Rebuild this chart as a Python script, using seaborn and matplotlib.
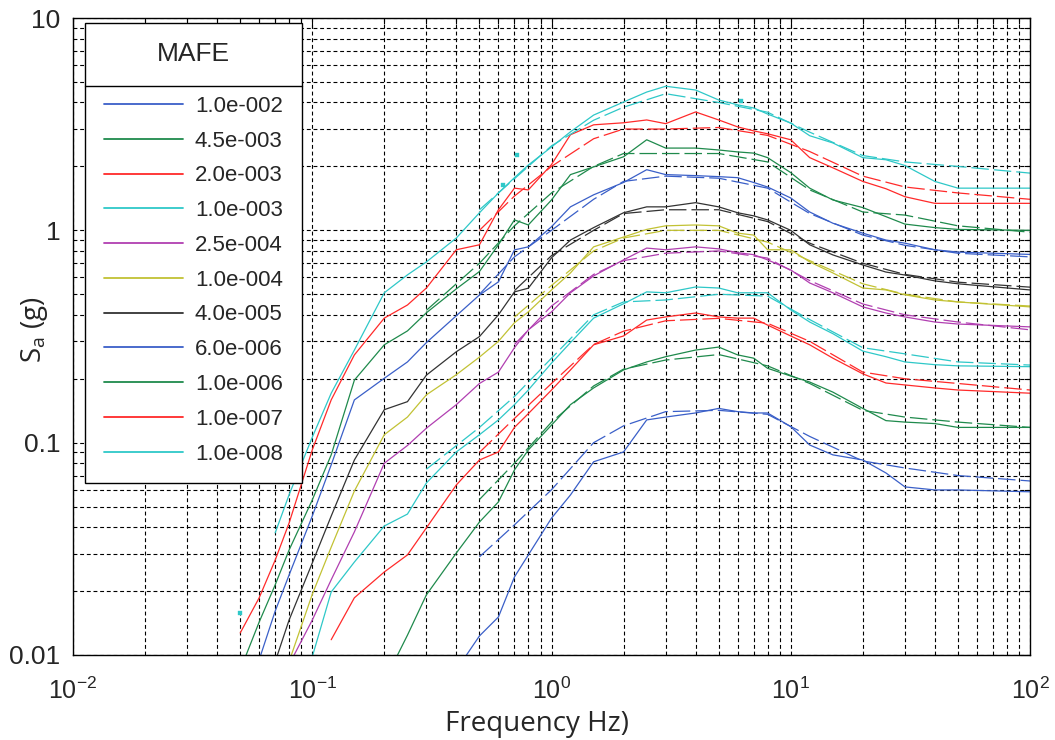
import numpy as np
import pandas as pd
import matplotlib
matplotlib.use("Agg")
import matplotlib.pyplot as plt
import seaborn as sns
from matplotlib.lines import Line2D
from matplotlib.ticker import FixedLocator, FixedFormatter, LogLocator, NullFormatter
from matplotlib.transforms import IdentityTransform

nan = np.nan

# ---------------- data ----------------
freq = [0.05, 0.06, 0.07, 0.08, 0.1, 0.12, 0.15, 0.2, 0.25, 0.3, 0.4, 0.5, 0.6, 0.7, 0.8,
        1.0, 1.2, 1.5, 2, 2.5, 3, 4, 5, 6, 7, 8, 10, 12, 15, 20, 25, 30, 40, 50, 100]

mafe_labels = ["1.0e-002", "4.5e-003", "2.0e-003", "1.0e-003", "2.5e-004", "1.0e-004",
               "4.0e-005", "6.0e-006", "1.0e-006", "1.0e-007", "1.0e-008"]

sa_1e2 = [nan]*10 + [0.0085, 0.0123, 0.0151, 0.0233, 0.0296, 0.0441, 0.0567, 0.0813, 0.0904,
                     0.128, 0.132, 0.138, 0.145, 0.140, 0.138, 0.138, 0.119, 0.0975, 0.0876,
                     0.0829, 0.072, 0.0619, 0.0599, 0.0599, 0.0587]
sa_45e3 = [nan]*7 + [0.0075, 0.0124, 0.0192, 0.0302, 0.0423, 0.0526, 0.0744, 0.0924, 0.121,
                     0.151, 0.181, 0.220, 0.240, 0.254, 0.273, 0.282, 0.259, 0.250, 0.224,
                     0.206, 0.193, 0.173, 0.145, 0.127, 0.125, 0.123, 0.118, 0.118]
sa_2e3 = [nan]*5 + [0.0118, 0.0186, 0.0246, 0.0296, 0.0397, 0.0632, 0.0829, 0.0904, 0.118,
                    0.137, 0.177, 0.220, 0.289, 0.318, 0.378, 0.391, 0.408, 0.391, 0.386,
                    0.386, 0.358, 0.318, 0.289, 0.250, 0.211, 0.191, 0.187, 0.181, 0.177, 0.171]
sa_1e3 = [nan]*4 + [0.0098, 0.0198, 0.0274, 0.0405, 0.0461, 0.0646, 0.0904, 0.109, 0.128,
                    0.151, 0.177, 0.237, 0.296, 0.386, 0.451, 0.513, 0.508, 0.541, 0.535,
                    0.508, 0.508, 0.508, 0.422, 0.370, 0.326, 0.270, 0.254, 0.240, 0.233,
                    0.230, 0.228]
sa_25e4 = [nan]*3 + [0.009, 0.0146, 0.0226, 0.038, 0.080, 0.097, 0.117, 0.151, 0.19, 0.215,
                     0.28, 0.34, 0.413, 0.508, 0.61, 0.726, 0.825, 0.81, 0.836, 0.818, 0.785,
                     0.768, 0.726, 0.651, 0.565, 0.508, 0.436, 0.408, 0.391, 0.37, 0.362, 0.351]
sa_1e4 = [nan]*3 + [0.0093, 0.0193, 0.0322, 0.0592, 0.109, 0.132, 0.168, 0.209, 0.253, 0.30,
                    0.367, 0.413, 0.524, 0.63, 0.836, 0.93, 1.01, 1.05, 1.06, 1.05, 0.97,
                    0.95, 0.81, 0.81, 0.71, 0.63, 0.535, 0.524, 0.497, 0.470, 0.46, 0.436]
sa_4e5 = [nan]*2 + [0.0093, 0.0146, 0.0271, 0.0451, 0.0829, 0.143, 0.156, 0.208, 0.268, 0.316,
                    0.40, 0.513, 0.534, 0.742, 0.90, 1.03, 1.21, 1.29, 1.29, 1.35, 1.29, 1.21,
                    1.17, 1.12, 1.00, 0.855, 0.766, 0.687, 0.636, 0.616, 0.578, 0.56, 0.524]
sa_6e6 = [nan]*1 + [0.0095, 0.0161, 0.0238, 0.0451, 0.0786, 0.159, 0.201, 0.240, 0.296, 0.396,
                    0.496, 0.572, 0.809, 0.836, 1.04, 1.29, 1.47, 1.68, 1.93, 1.83, 1.81, 1.79,
                    1.77, 1.68, 1.60, 1.42, 1.22, 1.08, 0.97, 0.90, 0.87, 0.81, 0.79, 0.77]
sa_1e6 = [0.0085, 0.0143, 0.0214, 0.0312, 0.0537, 0.0876, 0.197, 0.289, 0.336, 0.409, 0.53,
          0.64, 0.855, 1.12, 1.06, 1.39, 1.83, 1.99, 2.22, 2.67, 2.44, 2.44, 2.39, 2.34, 2.31,
          2.20, 1.87, 1.58, 1.39, 1.28, 1.16, 1.07, 1.03, 1.01, 1.00]
sa_1e7 = [0.0127, 0.0186, 0.0280, 0.0418, 0.0924, 0.159, 0.259, 0.386, 0.445, 0.535, 0.81,
          0.855, 1.25, 1.58, 1.55, 2.04, 2.82, 3.14, 3.21, 3.31, 3.18, 3.61, 3.31, 3.07, 2.94,
          2.85, 2.67, 2.20, 1.97, 1.70, 1.57, 1.44, 1.34, 1.34, 1.34]
sa_1e8 = [nan]*2 + [0.0376, 0.0568, 0.106, 0.171, 0.273, 0.508, 0.617, 0.71, 0.92, 1.21, 1.50,
                    1.77, 2.03, 2.47, 2.91, 3.49, 4.02, 4.48, 4.77, 4.58, 4.11, 3.90, 3.77,
                    3.53, 3.20, 2.79, 2.58, 2.20, 2.15, 2.02, 1.70, 1.58, 1.58]

# second (segmented) estimate for each MAFE level
freq2 = [0.3, 0.5, 0.7, 1, 1.5, 2, 3, 5, 8, 12, 20, 30, 50, 100]
s2_1e2 = [nan, 0.029, 0.041, 0.060, 0.10, 0.12, 0.14, 0.142, 0.136, 0.107, 0.082, 0.076, 0.070, 0.066]
s2_45e3 = [nan, 0.054, 0.08, 0.125, 0.185, 0.222, 0.245, 0.26, 0.23, 0.19, 0.142, 0.132, 0.125, 0.118]
s2_2e3 = [nan, 0.09, 0.13, 0.19, 0.29, 0.335, 0.375, 0.385, 0.365, 0.30, 0.215, 0.2, 0.19, 0.177]
s2_1e3 = [0.075, 0.118, 0.165, 0.25, 0.40, 0.46, 0.47, 0.50, 0.49, 0.38, 0.28, 0.262, 0.24, 0.232]
s2_25e4 = [nan, nan, 0.29, 0.44, 0.62, 0.72, 0.78, 0.80, 0.74, 0.58, 0.45, 0.40, 0.37, 0.34]
s2_1e4 = [nan, nan, 0.39, 0.55, 0.80, 0.92, 1.0, 1.0, 0.88, 0.72, 0.56, 0.50, 0.46, 0.44]
s2_4e5 = [nan, nan, 0.52, 0.76, 1.0, 1.2, 1.25, 1.25, 1.1, 0.87, 0.70, 0.62, 0.57, 0.54]
s2_6e6 = [nan, 0.50, 0.75, 1.0, 1.4, 1.7, 1.8, 1.76, 1.58, 1.2, 0.95, 0.85, 0.78, 0.75]
s2_1e6 = [0.42, 0.70, 1.05, 1.5, 2.0, 2.3, 2.3, 2.3, 2.1, 1.55, 1.22, 1.18, 1.05, 0.98]
s2_1e7 = [nan, 1.0, 1.45, 2.0, 2.7, 3.0, 3.0, 3.05, 2.8, 2.35, 1.8, 1.6, 1.5, 1.40]
s2_1e8 = [nan, 1.25, 1.75, 2.5, 3.3, 3.8, 4.4, 4.0, 3.6, 2.9, 2.25, 2.1, 2.0, 1.86]

# isolated single points (1.0e-008 level)
pt_freq = [0.05, 0.63, 0.72, 6.2]
pt_sa = [0.0158, 1.64, 2.27, 4.07]

y_ticks = [0.01, 0.1, 1, 10]
y_ticklabels = ["0.01", "0.1", "1", "10"]

mains = [sa_1e2, sa_45e3, sa_2e3, sa_1e3, sa_25e4, sa_1e4, sa_4e5, sa_6e6, sa_1e6, sa_1e7, sa_1e8]
seconds = [s2_1e2, s2_45e3, s2_2e3, s2_1e3, s2_25e4, s2_1e4, s2_4e5, s2_6e6, s2_1e6, s2_1e7, s2_1e8]

C_BLUE, C_GREEN, C_RED, C_CYAN = "#3a5fc8", "#1f8a4c", "#ff2a2a", "#2ec8c8"
C_MAG, C_YEL, C_BLK = "#b13fb1", "#c2c234", "#333333"
colors = [C_BLUE, C_GREEN, C_RED, C_CYAN, C_MAG, C_YEL, C_BLK, C_BLUE, C_GREEN, C_RED, C_CYAN]

# ---------------- style ----------------
sns.set_style("white")
plt.rcParams["font.family"] = ["Liberation Sans", "DejaVu Sans"]
plt.rcParams["mathtext.fontset"] = "custom"
plt.rcParams["mathtext.rm"] = "Liberation Sans"
plt.rcParams["mathtext.it"] = "Liberation Sans:italic"
plt.rcParams["mathtext.default"] = "regular"
plt.rcParams["axes.unicode_minus"] = False

fig = plt.figure(figsize=(10.55, 7.40), dpi=100)
ax = fig.add_axes([73/1055, 1 - 655/740, (1030-73)/1055, (655-18)/740])
ax.set_xscale("log")
ax.set_yscale("log")

main_df = pd.concat([pd.DataFrame({"freq": freq, "sa": v, "mafe": lab})
                     for v, lab in zip(mains, mafe_labels)], ignore_index=True)
sec_df = pd.concat([pd.DataFrame({"freq": freq2, "sa": v, "mafe": lab})
                    for v, lab in zip(seconds, mafe_labels)], ignore_index=True)

for lab, col in zip(mafe_labels, colors):
    d = main_df[main_df["mafe"] == lab].dropna()
    sns.lineplot(data=d, x="freq", y="sa", color=col, linewidth=0.9, ax=ax,
                 estimator=None, sort=False, legend=False)
    d2 = sec_df[sec_df["mafe"] == lab].dropna()
    sns.lineplot(data=d2, x="freq", y="sa", color=col, linewidth=0.9, ax=ax,
                 estimator=None, sort=False, legend=False, linestyle=(0, (14, 4)))

sns.scatterplot(x=pt_freq, y=pt_sa, marker="s", s=10, color=C_CYAN, edgecolor=C_CYAN,
                ax=ax, legend=False, zorder=3)

ax.set_xlim(0.01, 100)
ax.set_ylim(0.01, 10)

ax.yaxis.set_major_locator(FixedLocator(y_ticks))
ax.yaxis.set_major_formatter(FixedFormatter(y_ticklabels))
ax.yaxis.set_minor_locator(LogLocator(base=10, subs=np.arange(2, 10)))
ax.yaxis.set_minor_formatter(NullFormatter())
ax.xaxis.set_major_locator(LogLocator(base=10, numticks=10))
ax.xaxis.set_minor_locator(LogLocator(base=10, subs=np.arange(2, 10), numticks=20))
ax.xaxis.set_minor_formatter(NullFormatter())

ax.grid(True, which="both", color="black", linestyle=(0, (3.5, 2.5)), linewidth=0.8)
ax.set_axisbelow(True)
ax.tick_params(which="both", direction="in", top=True, right=True, color="black", width=0.8)
ax.tick_params(which="major", length=7)
ax.tick_params(which="minor", length=4)
ax.tick_params(axis="x", which="major", pad=16, labelsize=18)
ax.tick_params(axis="y", which="major", pad=9, labelsize=19)
for sp in ax.spines.values():
    sp.set_color("black")
    sp.set_linewidth(1.0)

ax.set_xlabel("Frequency Hz)", fontsize=20, family=["Open Sans", "DejaVu Sans"])
ax.set_ylabel(r"S$_\mathregular{a}$ (g)", fontsize=20, family=["Open Sans", "DejaVu Sans"])
ax.xaxis.set_label_coords(0.485, -0.086)
ax.yaxis.set_label_coords(-0.024, 0.51)

handles = [Line2D([0], [0], color=c, lw=1.3) for c in colors]
leg = ax.legend(handles, mafe_labels, title="MAFE", loc="upper left",
                bbox_to_anchor=(12/957, (655-23)/637), borderaxespad=0,
                fontsize=16, title_fontsize=19, frameon=True, fancybox=False,
                edgecolor="black", framealpha=1, handlelength=3.55, handletextpad=0.54,
                labelspacing=0.62, borderpad=0.85)
leg.get_frame().set_linewidth(1.0)
leg._legend_box.sep = 21.5

fig.canvas.draw()
r = fig.canvas.get_renderer()
lb = leg.get_frame().get_window_extent(r)
tb = leg.get_title().get_window_extent(r)
t0 = leg.get_texts()[0].get_window_extent(r)
ysep = tb.y0 - 0.66 * (tb.y0 - t0.y1)
fig.add_artist(Line2D([lb.x0, lb.x1], [ysep, ysep], color="black", lw=1.0,
                      transform=IdentityTransform(), zorder=10))

fig.savefig("out.png", dpi=100)
